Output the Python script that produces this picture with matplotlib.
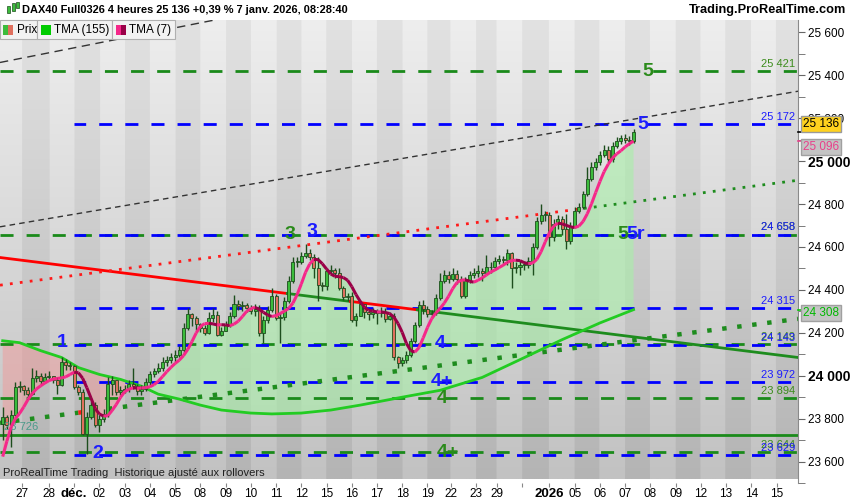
import numpy as np
import pandas as pd
import matplotlib
matplotlib.use("Agg")
import matplotlib.pyplot as plt
from matplotlib.collections import LineCollection
from matplotlib.patches import Rectangle

plt.rcParams['font.family'] = ['Liberation Sans', 'DejaVu Sans']

# ---- 4h candles, DAX40 Full0326 ----
first_open = 23776
closes = [
    23808, 23771, 23817, 23946, 23951, 23932, 23914, 23988, 24001, 23974,
    23992, 24001, 23978, 23955, 24066, 24048, 24043, 23946, 23923, 23729,
    23808, 23863, 23771, 23798, 23822, 23960, 23978, 23923, 23932, 23937,
    23960, 23951, 23928, 23937, 23969, 24006, 24020, 24038, 24066, 24075,
    24085, 24098, 24122, 24223, 24288, 24269, 24242, 24223, 24200, 24269,
    24283, 24191, 24209, 24237, 24278, 24334, 24325, 24329, 24315, 24301,
    24311, 24200, 24260, 24306, 24371, 24269, 24274, 24348, 24440, 24532,
    24532, 24560, 24574, 24555, 24500, 24421, 24417, 24486, 24495, 24481,
    24408, 24366, 24371, 24260, 24278, 24334, 24297, 24288, 24297, 24292,
    24297, 24265, 24278, 24085, 24057, 24071, 24098, 24163, 24237, 24329,
    24311, 24288, 24292, 24362, 24440, 24468, 24449, 24472, 24449, 24371,
    24445, 24468, 24481, 24486, 24481, 24505, 24509, 24537, 24546, 24541,
    24574, 24500, 24509, 24518, 24518, 24537, 24601, 24721, 24749, 24749,
    24648, 24708, 24731, 24685, 24629, 24698, 24768, 24786, 24846, 24915,
    24975, 24994, 25031, 25054, 25012, 25072, 25095, 25109, 25100, 25095, 25136,
]
highs = [
    23854, 23817, 23840, 23969, 23974, 23955, 23946, 24038, 24029, 24015,
    24015, 24020, 23997, 23992, 24085, 24080, 24066, 24048, 23955, 23937,
    23831, 23881, 23877, 23817, 23845, 23992, 24001, 23946, 23951, 23955,
    23978, 24038, 23960, 23955, 23988, 24020, 24038, 24061, 24085, 24094,
    24108, 24122, 24140, 24246, 24315, 24292, 24278, 24246, 24237, 24297,
    24315, 24301, 24228, 24255, 24297, 24375, 24352, 24348, 24338, 24329,
    24334, 24329, 24278, 24325, 24408, 24380, 24292, 24366, 24463, 24555,
    24555, 24578, 24615, 24592, 24569, 24555, 24435, 24500, 24518, 24500,
    24500, 24417, 24385, 24389, 24292, 24352, 24320, 24306, 24315, 24311,
    24320, 24315, 24297, 24292, 24094, 24089, 24117, 24177, 24251, 24348,
    24352, 24325, 24306, 24380, 24477, 24491, 24486, 24500, 24491, 24463,
    24458, 24486, 24500, 24518, 24500, 24564, 24528, 24555, 24564, 24560,
    24592, 24578, 24528, 24537, 24537, 24555, 24620, 24740, 24800, 24768,
    24763, 24731, 24749, 24745, 24754, 24717, 24786, 24804, 24860, 24971,
    24998, 25017, 25049, 25077, 25072, 25091, 25114, 25123, 25128, 25118, 25151,
]
lows = [
    23702, 23752, 23669, 23812, 23923, 23909, 23900, 23909, 23969, 23955,
    23965, 23983, 23965, 23914, 23951, 24029, 24025, 23937, 23909, 23725,
    23637, 23798, 23761, 23739, 23785, 23808, 23909, 23909, 23909, 23918,
    23923, 23937, 23909, 23909, 23928, 23955, 23992, 24011, 24020, 24043,
    24057, 24066, 24085, 24108, 24214, 24232, 24214, 24205, 24191, 24195,
    24251, 24186, 24186, 24209, 24228, 24269, 24306, 24301, 24297, 24288,
    24278, 24186, 24154, 24246, 24297, 24260, 24154, 24260, 24338, 24431,
    24509, 24523, 24551, 24541, 24454, 24348, 24394, 24398, 24472, 24454,
    24398, 24352, 24348, 24251, 24232, 24288, 24269, 24260, 24269, 24242,
    24274, 24251, 24260, 24075, 24038, 24043, 24057, 24085, 24154, 24228,
    24288, 24274, 24269, 24283, 24352, 24431, 24431, 24440, 24426, 24362,
    24362, 24431, 24454, 24458, 24440, 24472, 24481, 24491, 24523, 24514,
    24518, 24408, 24477, 24468, 24491, 24500, 24468, 24592, 24708, 24721,
    24606, 24629, 24685, 24657, 24592, 24615, 24689, 24758, 24777, 24837,
    24906, 24961, 24984, 25021, 24994, 24998, 25063, 25081, 25086, 25077, 25086,
]

# TMA(7) at the first bars (history before the window)
tma7_warmup = [23623, 23695, 23761, 23800]

# TMA(155) at a few bars
tma155_idx = [0, 4, 9, 14, 18, 23, 28, 33, 37, 42, 47, 52, 59, 64, 71, 78, 85, 95, 104, 114, 123, 133, 142, 150]
tma155_val = [24163, 24154, 24117, 24085, 24038, 24006, 23983, 23951, 23914, 23891, 23863, 23840, 23826, 23822,
              23826, 23840, 23863, 23900, 23932, 23992, 24075, 24168, 24246, 24308]
cross_idx = 33

# day separators / labels
tick_pos = [4.6, 11, 17, 23, 29, 35, 41, 47, 53, 59, 65, 71, 77, 83, 89, 95, 101, 106.5, 112.5, 117.5,
            123.5, 130, 136, 142, 148, 154, 160, 166, 172, 178, 184]
tick_lbl = ['27', '28', 'déc.', '02', '03', '04', '05', '08', '09', '10', '11', '12', '15', '16', '17', '18',
            '19', '22', '23', '29', '', '2026', '05', '06', '07', '08', '09', '12', '13', '14', '15']

# horizontal levels
green_levels = [25421, 24658, 24149, 23894, 23644]
blue_levels = [25172, 24658, 24315, 24143, 23972, 23629]
blue_start = 17
support_level = 23726

# trend lines: (x0, x1), (y0, y1)
XMIN, XMAX = -0.64, 189.1
YMIN, YMAX = 23517, 25658
black_dash_1 = ([XMIN, XMAX], [24694, 25326])
black_dash_2 = ([XMIN, XMAX], [25460, 26196])
solid_line = ([XMIN, XMAX], [24551, 24085])
solid_switch = [67.7, 82.7, 98.6]
dot_upper = ([XMIN, XMAX], [24422, 24911])
dot_upper_switch = 138.2
dot_lower = ([XMIN, XMAX], [23780, 24265])
dot_lower_red = (18, 25)

# wave labels: text, x, price, colour
wave_labels = [
    ('5', 153.4, 25418, 'g'), ('5', 152.2, 25169, 'b'),
    ('5', 147.5, 24657, 'g'), ('5r', 150.5, 24657, 'b'),
    ('3', 68.2, 24657, 'g'), ('3', 73.6, 24672, 'b'),
    ('1', 14.1, 24154, 'b'), ('2', 22.7, 23636, 'b'),
    ('4', 104.1, 24149, 'b'), ('4+', 104.4, 23972, 'b'),
    ('4', 104.4, 23894, 'g'), ('4+', 105.8, 23644, 'g'),
]

GREEN_T = '#2a8a1a'
BLUE_T = '#1c1cff'
GREEN_L = '#1a8a1a'
BLUE_L = '#0000ff'

fig = plt.figure(figsize=(8.5, 5), dpi=100)
fig.patch.set_facecolor('white')
ax = fig.add_axes([0, 17 / 500, 798 / 850, 463 / 500])
ax.set_xlim(XMIN, XMAX)
ax.set_ylim(YMIN, YMAX)

# banded gradient background
xs = np.linspace(XMIN, XMAX, 900)
band = np.searchsorted(tick_pos, xs) % 2
t = np.linspace(0, 1, 200)[:, None]
light = 238 - 44 * t
dark = 226 - 46 * t
img = np.where(band[None, :] == 0, light, dark) / 255
ax.imshow(np.dstack([img] * 3), extent=[XMIN, XMAX, YMIN, YMAX], aspect='auto', origin='upper', zorder=0)

n = len(closes)
idx = np.arange(n)
opens = [first_open] + closes[:-1]

# TMA(7) = SMA4(SMA4(close)), warm-up bars taken from the chart
tma7 = pd.Series(closes, dtype=float).rolling(4, min_periods=1).mean().rolling(4, min_periods=1).mean().to_numpy()
tma7[:len(tma7_warmup)] = tma7_warmup

# fills between TMA7 and TMA155
k_idx = np.array(tma155_idx)
k_val = np.array(tma155_val)
left = k_idx <= cross_idx
ax.fill(np.r_[idx[:cross_idx + 1], k_idx[left][::-1]], np.r_[tma7[:cross_idx + 1], k_val[left][::-1]],
        color='#f09a9a', alpha=0.5, lw=0, zorder=1)
right = k_idx >= cross_idx
ax.fill(np.r_[idx[cross_idx:], k_idx[right][::-1]], np.r_[tma7[cross_idx:], k_val[right][::-1]],
        color='#a8f0a8', alpha=0.6, lw=0, zorder=1)

# horizontal levels
for lv in green_levels:
    ax.plot([XMIN, XMAX], [lv, lv], color=GREEN_L, lw=2, ls=(0, (4.7, 4.7)), zorder=2)
for lv in blue_levels:
    ax.plot([blue_start, XMAX], [lv, lv], color=BLUE_L, lw=2, ls=(0.5, (4.7, 4.7)), zorder=2)
ax.axhline(support_level, color='#1a8a1a', lw=2, zorder=2)

for lv in green_levels:
    ax.annotate(f"{lv:,}".replace(',', ' '), (XMAX, lv), xytext=(-2, 1.5), textcoords='offset points',
                ha='right', va='bottom', fontsize=8, color='#3c8c1c', zorder=7)
for lv in blue_levels:
    ax.annotate(f"{lv:,}".replace(',', ' '), (XMAX, lv), xytext=(-2, 1.5), textcoords='offset points',
                ha='right', va='bottom', fontsize=8, color=BLUE_T, zorder=7)
ax.annotate(f"{support_level:,}".replace(',', ' '), (XMIN, support_level), xytext=(3, 1.5),
            textcoords='offset points', ha='left', va='bottom', fontsize=8, color='#4b9b8b', zorder=7)

# trend lines
ax.plot(*black_dash_1, color='#333333', lw=1, ls=(0, (4, 3)), zorder=3)
ax.plot(*black_dash_2, color='#333333', lw=1, ls=(0, (6, 4)), zorder=3)


def split_line(line, cuts):
    xs_, ys_ = line
    pts = [xs_[0]] + list(cuts) + [xs_[1]]
    return [(a, b, np.interp(a, xs_, ys_), np.interp(b, xs_, ys_)) for a, b in zip(pts[:-1], pts[1:])]


for j, (a, b, ya, yb) in enumerate(split_line(solid_line, solid_switch)):
    ax.plot([a, b], [ya, yb], color='#ff0000' if j % 2 == 0 else '#1e8c1e', lw=2, zorder=3)
for j, (a, b, ya, yb) in enumerate(split_line(dot_upper, [dot_upper_switch])):
    ax.plot([a, b], [ya, yb], color='#ff1a1a' if j == 0 else '#1e8c1e', lw=2, ls=(0, (1, 2.6)), zorder=3)
for j, (a, b, ya, yb) in enumerate(split_line(dot_lower, dot_lower_red)):
    ax.plot([a, b], [ya, yb], color='#1e8c1e' if j != 1 else '#ff1a1a', lw=3.2, ls=(0, (1, 2.4)), zorder=3)

# TMA155
ax.plot(tma155_idx, tma155_val, color='#22cc22', lw=2, zorder=4)

# candles
for i, (o, h, l, c) in enumerate(zip(opens, highs, lows, closes)):
    up = c >= o
    ax.vlines(i, min(l, o, c), max(h, o, c), color='#1d4d1d', lw=1, zorder=5)
    ax.add_patch(Rectangle((i - 0.36, min(o, c)), 0.72, max(abs(c - o), 3),
                           facecolor='#3cbc3c' if up else '#e0705e', edgecolor='#1d4d1d', lw=0.6, zorder=6))

# TMA7, pink rising / maroon falling
seg = np.stack([np.c_[idx[:-1], tma7[:-1]], np.c_[idx[1:], tma7[1:]]], axis=1)
cols = ['#f5288a' if d >= 0 else '#9a0048' for d in np.diff(tma7)]
ax.add_collection(LineCollection(seg, colors=cols, linewidths=2.2, zorder=7))

for txt, x, y, c in wave_labels:
    ax.text(x, y, txt, color=GREEN_T if c == 'g' else BLUE_T, fontsize=14, fontweight='bold',
            ha='center', va='center', zorder=8)

ax.text(0.004, 0.022, "ProRealTime Trading  Historique ajusté aux rollovers", transform=ax.transAxes,
        fontsize=8, color='#202020', va='center', zorder=8)

# axes styling
for s in ['top', 'left', 'bottom']:
    ax.spines[s].set_visible(False)
ax.spines['right'].set_color('#8a8a8a')
ax.yaxis.tick_right()
yt = list(range(23600, 25601, 200))
ax.set_yticks(yt)
ax.set_yticklabels([f"{v:,}".replace(',', ' ') for v in yt])
ax.set_yticks(list(range(23500, 25601, 100)), minor=True)
ax.tick_params(axis='y', which='major', length=5, color='#666666', labelsize=8.5, pad=2)
ax.tick_params(axis='y', which='minor', length=5, color='#666666')
for lab in ax.get_yticklabels():
    if lab.get_text() in ('25 000', '24 000'):
        lab.set_fontweight('bold')
        lab.set_fontsize(10)
ax.set_xticks(tick_pos)
ax.set_xticklabels(tick_lbl)
ax.tick_params(axis='x', length=3, color='#888888', labelsize=8.5, pad=0.5)
for lab in ax.get_xticklabels():
    if lab.get_text() in ('déc.', '2026'):
        lab.set_fontweight('bold')
        lab.set_fontsize(9.5)

# right-side price tags
trans = ax.get_yaxis_transform()
for price, col in [(25136, 'black'), (25096, '#e8408a'), (24308, '#00cc00')]:
    ax.plot([1.0, 1.008], [price, price], color=col, lw=1.2, transform=trans, clip_on=False, zorder=9)
fig.text(803 / 850, 1 - 124 / 500, "25 136", fontsize=8.5, va='center', color='black',
         bbox=dict(facecolor='#ffd21e', edgecolor='#9a9a9a', pad=1.2))
fig.text(803 / 850, 1 - 147 / 500, "25 096", fontsize=8.5, va='center', color='#e8408a',
         bbox=dict(facecolor='#c4c4c4', edgecolor='#a0a0a0', pad=1.2))
fig.text(803 / 850, 1 - 313 / 500, "24 308", fontsize=8.5, va='center', color='#00b800',
         bbox=dict(facecolor='#c4c4c4', edgecolor='#a0a0a0', pad=1.2))

# header
fig.text(22 / 850, 1 - 10 / 500, "DAX40 Full0326 4 heures 25 136 +0,39 % 7 janv. 2026, 08:28:40",
         fontsize=7.9, fontweight='bold', va='center')
fig.text(846 / 850, 1 - 10 / 500, "Trading.ProRealTime.com", fontsize=9.2, fontweight='bold', va='center', ha='right')
for cx, cy0, cy1 in [(7, 6, 13), (12, 3, 11), (16, 2, 8)]:
    fig.add_artist(Rectangle((cx / 850, 1 - cy1 / 500), 3 / 850, (cy1 - cy0) / 500, transform=fig.transFigure,
                             facecolor='#3cbc3c', edgecolor='#1d4d1d', lw=0.5))

# legend boxes
boxes = [(0, 37, 'Prix'), (37, 112, 'TMA (155)'), (112, 175, 'TMA (7)')]
for x0, x1, name in boxes:
    fig.add_artist(Rectangle((x0 / 850, 1 - 39 / 500), (x1 - x0) / 850, 19 / 500, transform=fig.transFigure,
                             facecolor='#f2f2f2', edgecolor='#b0b0b0', lw=0.8, zorder=10))
    fig.text((x0 + 17) / 850, 1 - 30 / 500, name, fontsize=8.5, va='center', zorder=11)
icons = [(3, '#3cbc3c', '#e0705e'), (41, '#00cc00', '#00cc00'), (116, '#f5288a', '#9a0048')]
for x0, c1, c2 in icons:
    fig.add_artist(Rectangle((x0 / 850, 1 - 35 / 500), 5 / 850, 10 / 500, transform=fig.transFigure,
                             facecolor=c1, lw=0, zorder=11))
    fig.add_artist(Rectangle(((x0 + 5) / 850, 1 - 35 / 500), 5 / 850, 10 / 500, transform=fig.transFigure,
                             facecolor=c2, lw=0, zorder=11))

fig.savefig('out.png', dpi=100)
